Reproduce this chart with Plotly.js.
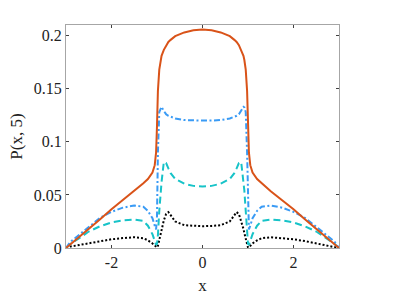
<!DOCTYPE html>
<html>
<head>
<meta charset="utf-8">
<script src="https://cdn.plot.ly/plotly-3.0.1.min.js"></script>
<style>
  html, body { margin: 0; padding: 0; background: #fff; }
  #plot { width: 407px; height: 296px; }
</style>
</head>
<body>
<div id="plot"></div>
<script>
// x positions (denser near the jumps at x = +-1)
const xs = [-3, -2.9, -2.75, -2.5, -2.25, -2, -1.75, -1.5, -1.3, -1.2, -1.1, -1.05, -1.02,
            -1, -0.98, -0.95, -0.92, -0.9, -0.85, -0.8, -0.75, -0.7, -0.6, -0.4, -0.2, 0,
            0.2, 0.4, 0.6, 0.7, 0.75, 0.8, 0.85, 0.9, 0.92, 0.95, 0.98, 1,
            1.02, 1.05, 1.1, 1.2, 1.3, 1.5, 1.75, 2, 2.25, 2.5, 2.75, 2.9, 3];

// orange solid
const pOrange = [0, 0.0035, 0.0088, 0.018, 0.027, 0.0365, 0.045, 0.0535, 0.061, 0.065, 0.071, 0.078, 0.09,
                 0.115, 0.148, 0.168, 0.177, 0.181, 0.1866, 0.191, 0.194, 0.196, 0.1995, 0.203, 0.205, 0.2057,
                 0.205, 0.203, 0.1995, 0.196, 0.194, 0.191, 0.1866, 0.181, 0.177, 0.168, 0.148, 0.115,
                 0.09, 0.078, 0.071, 0.065, 0.061, 0.0535, 0.045, 0.0365, 0.027, 0.018, 0.0088, 0.0035, 0];

// blue dash-dot
const pBlue = [0, 0.006, 0.011, 0.02, 0.0285, 0.034, 0.038, 0.040, 0.0388, 0.035, 0.028, 0.021, 0.0175,
               0.03, 0.09, 0.128, 0.1325, 0.133, 0.129, 0.126, 0.1245, 0.1235, 0.122, 0.1205, 0.12, 0.12,
               0.12, 0.1205, 0.122, 0.1235, 0.1245, 0.126, 0.129, 0.133, 0.1325, 0.128, 0.09, 0.03,
               0.0175, 0.021, 0.028, 0.035, 0.0388, 0.040, 0.038, 0.034, 0.0285, 0.02, 0.011, 0.006, 0];

// cyan dashed
const pCyan = [0, 0.004, 0.008, 0.0155, 0.0205, 0.024, 0.026, 0.0268, 0.0255, 0.021, 0.013, 0.0068, 0.003,
               0.004, 0.012, 0.035, 0.054, 0.062, 0.081, 0.080, 0.075, 0.0705, 0.065, 0.0605, 0.0585, 0.058,
               0.0585, 0.0605, 0.065, 0.0705, 0.075, 0.080, 0.081, 0.062, 0.054, 0.035, 0.012, 0.004,
               0.003, 0.0068, 0.013, 0.021, 0.0255, 0.0268, 0.026, 0.024, 0.0205, 0.0155, 0.008, 0.004, 0];

// black dotted
const pBlack = [0, 0.0015, 0.0025, 0.0045, 0.0065, 0.0082, 0.0093, 0.0101, 0.0092, 0.0072, 0.0043, 0.0022, 0.0005,
                0.0005, 0.002, 0.008, 0.014, 0.018, 0.026, 0.032, 0.0338, 0.031, 0.025, 0.0215, 0.0208, 0.0205,
                0.0208, 0.0215, 0.025, 0.031, 0.0338, 0.032, 0.026, 0.018, 0.014, 0.008, 0.002, 0.0005,
                0.0005, 0.0022, 0.0043, 0.0072, 0.0092, 0.0101, 0.0093, 0.0082, 0.0065, 0.0045, 0.0025, 0.0015, 0];

const xTicks = [-2, 0, 2];
const xTickText = ['-2', '0', '2'];
const yTicks = [0, 0.05, 0.1, 0.15, 0.2];
const yTickText = ['0', '0.05', '0.1', '0.15', '0.2'];

const font = { family: 'Liberation Serif, DejaVu Serif, serif', size: 16, color: '#222222' };
const titleFont = { family: 'Liberation Serif, DejaVu Serif, serif', size: 17, color: '#222222' };

const traces = [
  { x: xs, y: pBlack, mode: 'lines', line: { color: '#000000', width: 2, dash: '2px,2px' } },
  { x: xs, y: pCyan, mode: 'lines', line: { color: '#17C3C8', width: 2, dash: '7px,4px' } },
  { x: xs, y: pBlue, mode: 'lines', line: { color: '#3A9BF5', width: 2, dash: '6px,2.5px,2px,2.5px' } },
  { x: xs, y: pOrange, mode: 'lines', line: { color: '#D95319', width: 2 } }
];

const axisCommon = {
  showline: true, linecolor: '#a6a6a6', linewidth: 1, mirror: 'ticks',
  ticks: 'inside', ticklen: 3, tickcolor: '#404040', tickwidth: 1,
  showgrid: false, zeroline: false, tickfont: font
};

const layout = {
  width: 407, height: 296,
  margin: { l: 66, r: 68, t: 25, b: 48 },
  paper_bgcolor: '#fff', plot_bgcolor: '#fff',
  showlegend: false,
  font: font,
  xaxis: Object.assign({}, axisCommon, {
    range: [-3, 3], tickvals: xTicks, ticktext: xTickText,
    title: { text: 'x', font: titleFont, standoff: 8 }
  }),
  yaxis: Object.assign({}, axisCommon, {
    range: [0, 0.21], tickvals: yTicks, ticktext: yTickText,
    title: { text: 'P(x, 5)', font: titleFont, standoff: 6 }
  })
};

Plotly.newPlot('plot', traces, layout, { displayModeBar: false, staticPlot: true });
</script>
</body>
</html>
